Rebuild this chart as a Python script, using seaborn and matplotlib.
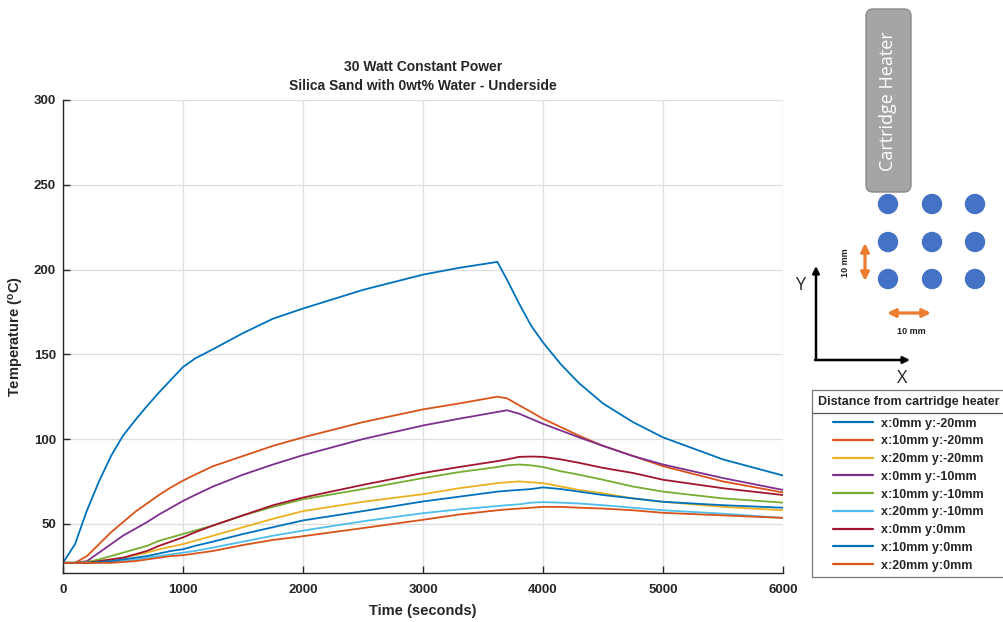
import numpy as np
import pandas as pd
import seaborn as sns
import matplotlib.pyplot as plt
from matplotlib.patches import FancyBboxPatch, Circle, FancyArrowPatch

###############################################################################
# Data
###############################################################################
time_s = [0, 100, 200, 300, 400, 500, 600, 700, 800, 900, 1000, 1100, 1250,
          1500, 1750, 2000, 2500, 3000, 3300, 3620, 3700, 3800, 3900, 4000,
          4150, 4300, 4500, 4750, 5000, 5500, 6000]

x0_yn20 = [27, 38, 58, 75, 90, 102, 111, 119.5, 127.5, 135, 142.5, 147.5, 153,
           162.5, 171, 177, 188, 197, 201, 204.5, 194, 180, 167, 157,
           144, 133, 121, 110, 101, 88, 78.5]
x10_yn20 = [27, 27, 31, 38, 45, 51, 57, 62, 67, 71.5, 75.5, 79, 84,
            90, 96, 101, 110, 117.5, 121, 125, 124, 120, 116, 112,
            107, 102, 96, 90, 84, 75, 68.5]
x20_yn20 = [27, 27, 27, 28, 29, 30, 31.5, 33, 35, 36.5, 38, 40, 43,
            48, 53, 57.5, 63, 67.5, 71, 74, 74.5, 75, 74.5, 74,
            72, 70, 68, 65, 63, 60, 58]
x0_yn10 = [27, 27, 28, 33, 38, 43, 47, 51, 55.5, 59.5, 63.5, 67, 72,
           79, 85, 90.5, 100, 108, 112, 116, 117, 115, 112, 109,
           105, 101, 96, 90, 85, 77, 70]
x10_yn10 = [27, 27, 27.5, 29, 31, 33, 35, 37, 40, 42, 44, 46, 49,
            55, 60, 64.5, 70.5, 77, 80.5, 83.5, 84.5, 85, 84.5, 83.5,
            81, 79, 76, 72, 69, 65, 62.5]
x20_yn10 = [27, 27, 27, 27, 27.5, 28, 29, 30, 31, 32, 33, 34, 36,
            39.5, 43, 46, 51.5, 56.3, 58.5, 60.5, 61, 61.5, 62.5, 62.8,
            62.5, 62, 61, 59.5, 58, 56, 53.5]
x0_y0 = [27, 27, 27, 28, 29, 30, 32, 34, 37, 39.5, 42, 45, 49,
         55, 61, 65.5, 73, 80, 83.5, 87, 88, 89.5, 89.7, 89.5,
         88, 86, 83, 80, 76, 71, 67]
x10_y0 = [27, 27, 27, 27.5, 28, 29, 30, 31, 32.5, 34, 35, 37, 39.5,
          44, 48, 52, 57.5, 63.2, 66, 69, 69.5, 70, 70.5, 71.5,
          70.5, 69, 67, 65, 63, 61, 59.5]
x20_y0 = [27, 27, 27, 27, 27, 27.5, 28, 29, 30, 31, 31.5, 32.5, 34,
          37.5, 40.5, 42.7, 47.5, 52.4, 55.5, 58, 58.5, 59, 59.5, 60,
          60, 59.5, 59, 58, 56.5, 55, 53.5]

series = [x0_yn20, x10_yn20, x20_yn20, x0_yn10, x10_yn10, x20_yn10,
          x0_y0, x10_y0, x20_y0]
labels = ['x:0mm y:-20mm', 'x:10mm y:-20mm', 'x:20mm y:-20mm',
          'x:0mm y:-10mm', 'x:10mm y:-10mm', 'x:20mm y:-10mm',
          'x:0mm y:0mm', 'x:10mm y:0mm', 'x:20mm y:0mm']
colors = ['#0072BD', '#D95319', '#EDB120', '#7E2F8E', '#77AC30',
          '#4DBEEE', '#A2142F', '#0072BD', '#D95319']

df = pd.DataFrame({
    'time': time_s * len(series),
    'temp': np.concatenate(series),
    'sensor': np.repeat(labels, len(time_s)),
})

###############################################################################
# Style
###############################################################################
sns.set_theme(style='ticks')
plt.rcParams['font.family'] = ['Liberation Sans', 'DejaVu Sans']
plt.rcParams['font.weight'] = 'bold'
plt.rcParams['mathtext.fontset'] = 'custom'
plt.rcParams['mathtext.rm'] = 'Liberation Sans:bold'
DARK = '#262626'

fig = plt.figure(figsize=(10.04, 6.22), dpi=100)
W, H = 1004, 622
ax = fig.add_axes([63 / W, 1 - 573 / H, 720 / W, 473 / H])

sns.lineplot(data=df, x='time', y='temp', hue='sensor', hue_order=labels,
             palette=colors, linewidth=1.3, ax=ax, sort=False)

ax.set_xlim(0, 6000)
ax.set_ylim(21, 300)
ax.set_xticks(range(0, 6001, 1000))
ax.set_yticks(range(50, 301, 50))
ax.grid(True, color='#DEDEDE', linewidth=0.9)
ax.set_axisbelow(True)
for s in ('top', 'right'):
    ax.spines[s].set_visible(False)
for s in ('left', 'bottom'):
    ax.spines[s].set_color(DARK)
    ax.spines[s].set_linewidth(1.0)
ax.tick_params(direction='in', length=5, width=1, color=DARK,
               labelsize=9.5, labelcolor=DARK)
ax.tick_params(axis='x', pad=8)
ax.tick_params(axis='y', pad=5)
for lab in ax.get_xticklabels() + ax.get_yticklabels():
    lab.set_fontweight('bold')

ax.set_xlabel('Time (seconds)', fontsize=10.5, fontweight='bold',
              color=DARK, labelpad=6)
ax.set_ylabel('Temperature ($\\mathrm{^o}$C)', fontsize=10.5,
              fontweight='bold', color=DARK)
ax.yaxis.set_label_coords(-0.052, 0.5)
ax.set_title('30 Watt Constant Power\nSilica Sand with 0wt% Water - Underside',
             fontsize=10, fontweight='bold', color=DARK, pad=7,
             linespacing=1.45)

sns.move_legend(ax, loc='upper left',
                bbox_to_anchor=(812 / W, 1 - 390 / H),
                bbox_transform=fig.transFigure,
                title='Distance from cartridge heater',
                title_fontproperties={'weight': 'bold', 'size': 9},
                prop={'weight': 'bold', 'size': 9},
                frameon=True, fancybox=False, edgecolor='#555555',
                borderpad=0.45, labelspacing=0.46, handlelength=3.2,
                handletextpad=0.65, borderaxespad=0)
leg = ax.get_legend()
leg.get_frame().set_linewidth(0.9)
leg._legend_box.sep += 3.0
for ln in leg.get_lines():
    ln.set_linewidth(1.6)

###############################################################################
# Sensor layout sketch (right side)
###############################################################################
axd = fig.add_axes([0, 0, 1, 1], zorder=5)
axd.set_xlim(0, W)
axd.set_ylim(H, 0)
axd.axis('off')
axd.patch.set_alpha(0)

axd.plot([812, 1003], [413, 413], color='#555555', lw=0.9)

axd.add_patch(FancyBboxPatch((866, 9), 45, 183,
                             boxstyle='round,pad=0,rounding_size=7',
                             fc='#A5A5A5', ec='#8A8A8A', lw=1))
axd.text(888.5, 101, 'Cartridge Heater', rotation=90, color='white',
         ha='center', va='center', fontsize=13, fontweight='normal',
         family=['Open Sans', 'DejaVu Sans'])

for cx in (888, 932, 975):
    for cy in (204, 242, 279):
        axd.add_patch(Circle((cx, cy), 9.5, fc='#4472C4', ec='#4472C4'))

orange = '#ED7D31'
axd.add_patch(FancyArrowPatch((865, 243), (865, 281), arrowstyle='<|-|>',
                              mutation_scale=12, color=orange, lw=2.3,
                              shrinkA=0, shrinkB=0))
axd.add_patch(FancyArrowPatch((887, 313), (931, 313), arrowstyle='<|-|>',
                              mutation_scale=12, color=orange, lw=2.3,
                              shrinkA=0, shrinkB=0))
axd.text(846, 263, '10 mm', rotation=90, ha='center', va='center',
         fontsize=6.5, fontweight='bold', color='#222222')
axd.text(911, 332, '10 mm', ha='center', va='center',
         fontsize=6.5, fontweight='bold', color='#222222')

axd.add_patch(FancyArrowPatch((816, 360), (816, 266), arrowstyle='-|>',
                              mutation_scale=10, color='black', lw=1.8,
                              shrinkA=0, shrinkB=0))
axd.add_patch(FancyArrowPatch((815, 360), (910, 360), arrowstyle='-|>',
                              mutation_scale=10, color='black', lw=1.8,
                              shrinkA=0, shrinkB=0))
axd.text(800, 285, 'Y', ha='center', va='center', fontsize=13,
         fontweight='normal', family=['Open Sans', 'DejaVu Sans'])
axd.text(902, 378, 'X', ha='center', va='center', fontsize=13,
         fontweight='normal', family=['Open Sans', 'DejaVu Sans'])

fig.savefig('out.png', dpi=100)
